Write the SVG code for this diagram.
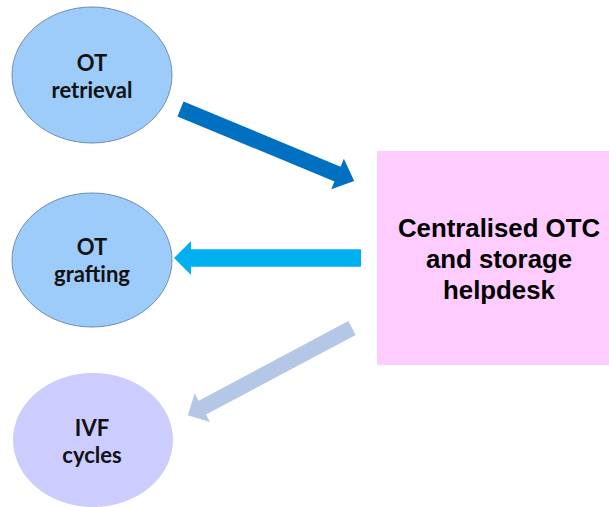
<svg xmlns="http://www.w3.org/2000/svg" width="609" height="507" viewBox="0 0 609 507">
<style>
.bub{stroke:#6f8fb3;stroke-width:1}
.lbl{font-family:Lato,"Open Sans","Liberation Sans",sans-serif;font-weight:bold;font-size:22px;fill:#111;text-anchor:middle}
.box{font-family:"Liberation Sans",Arial,sans-serif;font-weight:bold;font-size:25.8px;fill:#000;text-anchor:middle}
</style>
<rect width="609" height="507" fill="#fff"/>
<g id="connectors">
<polygon fill="#0070C0" transform="translate(180.5,109) rotate(22.5)" points="0,-8 170,-8 170,-16.5 188,0 170,16.5 170,8 0,8"/>
<polygon fill="#00B0F0" transform="translate(361,258) rotate(180)" points="0,-8.7 170,-8.7 170,-17 187,0 170,17 170,8.7 0,8.7"/>
<polygon fill="#B4C7E7" transform="translate(352,328) rotate(152)" points="0,-7.8 169.5,-7.8 169.5,-16.3 186,0 169.5,16.3 169.5,7.8 0,7.8"/>
</g>
<g id="ot-retrieval">
<ellipse class="bub" cx="92" cy="75" rx="80" ry="68" fill="#9DCBFA"/>
<text class="lbl" x="92" y="71">OT</text>
<text class="lbl" x="92" y="98">retrieval</text>
</g>
<g id="ot-grafting">
<ellipse class="bub" cx="92" cy="260" rx="80" ry="67" fill="#9DCBFA"/>
<text class="lbl" x="92" y="255">OT</text>
<text class="lbl" x="92" y="282">grafting</text>
</g>
<g id="ivf-cycles">
<ellipse cx="93" cy="440" rx="80" ry="67" fill="#CCCCFF"/>
<text class="lbl" x="92" y="436">IVF</text>
<text class="lbl" x="92" y="463">cycles</text>
</g>
<g id="helpdesk">
<rect x="377" y="151" width="232" height="214" fill="#FFCCFF"/>
<text class="box" x="499" y="237">Centralised OTC</text>
<text class="box" x="499" y="268">and storage</text>
<text class="box" x="499" y="299">helpdesk</text>
</g>
</svg>
